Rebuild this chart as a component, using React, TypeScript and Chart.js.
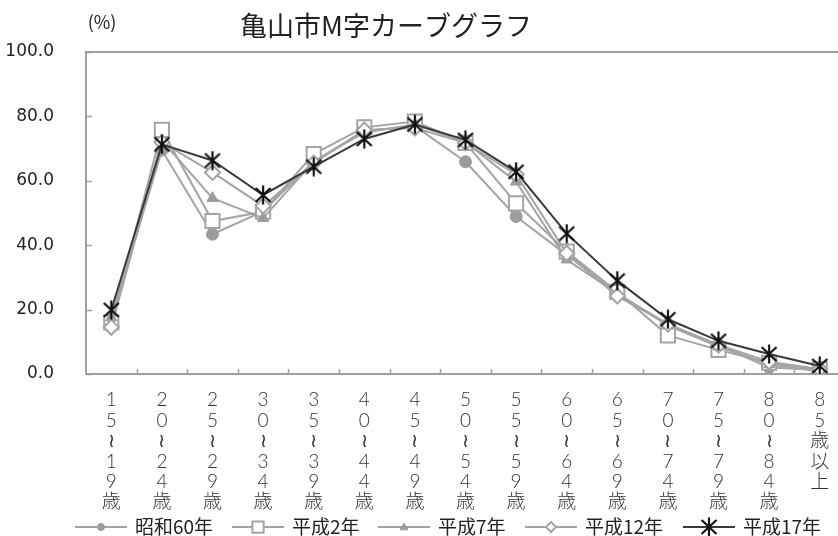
import React, { useEffect, useRef } from 'react';
import { Chart, registerables } from 'chart.js';

Chart.register(...registerables);

const categories = [
  '15≀19歳', '20≀24歳', '25≀29歳', '30≀34歳', '35≀39歳', '40≀44歳', '45≀49歳',
  '50≀54歳', '55≀59歳', '60≀64歳', '65≀69歳', '70≀74歳', '75≀79歳', '80≀84歳', '85歳以上',
];
const seriesNames = ['昭和60年', '平成2年', '平成7年', '平成12年', '平成17年'];
const s60 = [17.0, 69.5, 43.4, 50.5, 66.0, 75.5, 77.0, 65.9, 48.9, 37.0, 25.0, 15.5, 9.0, 2.0, 1.3];
const h2 = [16.0, 75.8, 47.5, 50.4, 68.3, 76.6, 78.4, 71.8, 53.0, 38.0, 25.5, 12.0, 7.5, 3.5, 1.5];
const h7 = [17.5, 72.5, 54.6, 48.4, 66.0, 75.0, 77.5, 72.0, 59.7, 35.5, 25.0, 15.0, 8.5, 3.0, 0.8];
const h12 = [14.5, 72.0, 62.6, 52.2, 65.5, 75.8, 76.4, 71.8, 62.0, 37.5, 24.2, 15.5, 9.0, 3.8, 1.5];
const h17 = [19.9, 71.3, 66.3, 55.6, 64.4, 73.0, 77.5, 72.7, 62.8, 43.6, 29.0, 17.0, 10.3, 6.2, 2.5];
const yTicks = [0, 20, 40, 60, 80, 100];
const titleText = '亀山市M字カーブグラフ';
const unitText = '(%)';

const CJK = '"Noto Sans CJK JP", sans-serif';

function makeStar(): HTMLCanvasElement {
  const c = document.createElement('canvas');
  c.width = 20;
  c.height = 20;
  const g = c.getContext('2d')!;
  g.strokeStyle = '#111';
  g.lineWidth = 2.2;
  g.beginPath();
  g.moveTo(2.5, 3); g.lineTo(17.5, 17);
  g.moveTo(17.5, 3); g.lineTo(2.5, 17);
  g.moveTo(10, 0.5); g.lineTo(10, 19.5);
  g.stroke();
  return c;
}

export default function App() {
  const ref = useRef<HTMLCanvasElement | null>(null);

  useEffect(() => {
    const canvas = ref.current!;
    const star = makeStar();
    const gray = '#a4a4a4';

    const styles = [
      { line: gray, bg: '#9c9c9c', border: '#9c9c9c', point: 'circle', r: 6, bw: 1 },
      { line: gray, bg: '#ffffff', border: gray, point: 'rect', r: 10, bw: 2 },
      { line: gray, bg: '#9c9c9c', border: '#9c9c9c', point: 'triangle', r: 6.5, bw: 1 },
      { line: gray, bg: '#ffffff', border: gray, point: 'rectRot', r: 7.5, bw: 2 },
      { line: '#3a3a3a', bg: '#111', border: '#111', point: star as any, r: 9, bw: 2 },
    ];
    const values = [s60, h2, h7, h12, h17];

    const framePlugin = {
      id: 'frame',
      beforeDatasetsDraw(chart: any) {
        const { ctx, chartArea } = chart;
        const { left, right, top, bottom } = chartArea;
        ctx.save();
        ctx.strokeStyle = '#a0a0a0';
        ctx.lineWidth = 2;
        ctx.beginPath();
        ctx.moveTo(left, top); ctx.lineTo(right, top);
        ctx.lineTo(right, bottom); ctx.lineTo(left, bottom); ctx.closePath();
        ctx.stroke();
        ctx.lineWidth = 1.5;
        const ys = chart.scales.y;
        ctx.beginPath();
        yTicks.forEach((v) => {
          const py = Math.round(ys.getPixelForValue(v)) + 0.5;
          ctx.moveTo(left, py); ctx.lineTo(left + 6, py);
        });
        const n = categories.length;
        const w = (right - left) / n;
        for (let i = 1; i < n; i++) {
          const px = Math.round(left + i * w) + 0.5;
          ctx.moveTo(px, bottom); ctx.lineTo(px, bottom - 5);
        }
        ctx.stroke();
        ctx.restore();
      },
      afterDraw(chart: any) {
        const { ctx } = chart;
        ctx.save();
        ctx.fillStyle = '#222';
        ctx.textBaseline = 'middle';
        ctx.textAlign = 'center';
        ctx.font = `27px ${CJK}`;
        ctx.fillText(titleText, 386, 26);
        ctx.font = `18px ${CJK}`;
        ctx.fillText(unitText, 102, 22);

        // legend
        const itemStarts = [75, 232, 378, 525, 683];
        const ly = 527;
        ctx.font = `19px ${CJK}`;
        ctx.textAlign = 'left';
        seriesNames.forEach((name, i) => {
          const st = styles[i];
          const x0 = itemStarts[i];
          const x1 = x0 + 52;
          const cx = (x0 + x1) / 2;
          ctx.strokeStyle = st.line;
          ctx.lineWidth = 2;
          ctx.beginPath();
          ctx.moveTo(x0, ly); ctx.lineTo(x1, ly);
          ctx.stroke();
          if (i === 4) {
            ctx.drawImage(star, cx - 10, ly - 10);
          } else {
            const r = i === 0 ? 3.5 : i === 1 ? 7.5 : i === 2 ? 4 : 5;
            ctx.fillStyle = st.bg;
            ctx.strokeStyle = st.border;
            ctx.lineWidth = st.bw;
            ctx.beginPath();
            if (i === 0) ctx.arc(cx, ly, r, 0, Math.PI * 2);
            else if (i === 1) ctx.rect(cx - r * 0.75, ly - r * 0.75, r * 1.5, r * 1.5);
            else if (i === 2) { ctx.moveTo(cx, ly - r); ctx.lineTo(cx + r, ly + r * 0.7); ctx.lineTo(cx - r, ly + r * 0.7); ctx.closePath(); }
            else { ctx.moveTo(cx, ly - r); ctx.lineTo(cx + r, ly); ctx.lineTo(cx, ly + r); ctx.lineTo(cx - r, ly); ctx.closePath(); }
            ctx.fill();
            ctx.stroke();
          }
          ctx.fillStyle = '#222';
          ctx.fillText(name, x1 + 8, ly);
        });
        ctx.restore();
      },
    };

    const chart = new Chart(canvas, {
      type: 'line',
      data: {
        labels: categories.map((s) => Array.from(s)),
        datasets: seriesNames.map((name, i) => ({
          label: name,
          data: values[i],
          borderColor: styles[i].line,
          borderWidth: 2,
          pointStyle: styles[i].point as any,
          pointRadius: styles[i].r,
          pointBackgroundColor: styles[i].bg,
          pointBorderColor: styles[i].border,
          pointBorderWidth: styles[i].bw,
          tension: 0,
          order: 4 - i,
        })),
      },
      options: {
        animation: false,
        responsive: false,
        layout: { padding: { top: 52, left: 0, right: 25, bottom: 0 } },
        plugins: { legend: { display: false }, tooltip: { enabled: false }, title: { display: false } },
        scales: {
          x: {
            offset: true,
            grid: { display: false },
            border: { display: false },
            afterFit: (s: any) => { s.height = 162; },
            ticks: {
              autoSkip: false,
              maxRotation: 0,
              padding: 8,
              color: '#333',
              font: { family: 'Lato, "Noto Sans CJK JP", sans-serif', size: 19, weight: '300' as any, lineHeight: '20.4px' as any },
            },
          },
          y: {
            min: 0,
            max: 100,
            grid: { display: false },
            border: { display: false },
            afterFit: (s: any) => { s.width = 86; },
            ticks: {
              stepSize: 20,
              padding: 24,
              color: '#222',
              font: { family: '"DejaVu Sans", sans-serif', size: 17 },
              callback: (v: any) => Number(v).toFixed(1),
            },
          },
        },
      },
      plugins: [framePlugin],
    });
    return () => chart.destroy();
  }, []);

  return (
    <div style={{ position: 'absolute', left: 0, top: 0, width: 838, height: 536, overflow: 'hidden', background: '#fff' }}>
      <canvas ref={ref} width={870} height={536} style={{ display: 'block' }} />
    </div>
  );
}
